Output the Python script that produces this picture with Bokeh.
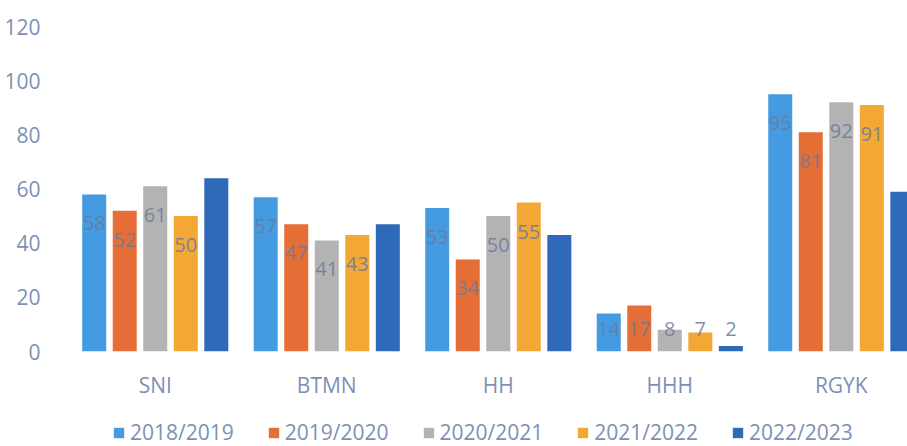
from bokeh.plotting import figure
from bokeh.layouts import column
from bokeh.models import (ColumnDataSource, Range1d, FixedTicker, Legend, LegendItem,
                          LabelSet)
from bokeh.core.properties import value
from bokeh.embed import file_html
from bokeh.resources import INLINE

categories = ["SNI", "BTMN", "HH", "HHH", "RGYK"]
series_names = ["2018/2019", "2019/2020", "2020/2021", "2021/2022", "2022/2023"]
v_2018_2019 = [58, 57, 53, 14, 95]
v_2019_2020 = [52, 47, 34, 17, 81]
v_2020_2021 = [61, 41, 50, 8, 92]
v_2021_2022 = [50, 43, 55, 7, 91]
v_2022_2023 = [64, 47, 43, 2, 59]
y_ticks = [0, 20, 40, 60, 80, 100, 120]

series_values = [v_2018_2019, v_2019_2020, v_2020_2021, v_2021_2022, v_2022_2023]
colors = ["#449BE2", "#E56E36", "#B3B3B3", "#F3A735", "#2E6AB7"]

FONT = "Open Sans"
TXT = "#7D90B6"

p = figure(width=907, height=406, output_backend="svg", toolbar_location=None,
           x_range=Range1d(-0.5, 4.386), y_range=Range1d(0, 120),
           min_border_left=69, min_border_right=0, min_border_top=26,
           min_border_bottom=55)
p.outline_line_color = None
p.xgrid.grid_line_color = None
p.ygrid.grid_line_color = None

# legend strip below the chart
lf = figure(width=907, height=40, output_backend="svg", toolbar_location=None,
            x_axis_type=None, y_axis_type=None, x_range=p.x_range,
            y_range=Range1d(0, 1), min_border_left=69, min_border_right=0,
            min_border_top=0, min_border_bottom=0)
lf.outline_line_color = None

offset = 0.178
bar_w = 0.14
xs = [float(i) for i in range(len(categories))]
lab_x, lab_y, lab_t = [], [], []
items = []
for i, (name, vals, col) in enumerate(zip(series_names, series_values, colors)):
    bx = [x + (i - 2) * offset for x in xs]
    src = ColumnDataSource(dict(x=bx, top=vals))
    p.vbar(x="x", top="top", width=bar_w, source=src, fill_color=col,
           line_color=None)
    # hidden copy in the legend strip, used only for the legend swatch
    lr = lf.vbar(x="x", top="top", width=bar_w, source=src, fill_color=col,
                 line_color=None, visible=False)
    items.append(LegendItem(label=name, renderers=[lr]))
    for xv, v in zip(bx, vals):
        if i < 4 or v < 19:
            lab_x.append(xv)
            lab_y.append(max(v, 19))
            lab_t.append(str(v))

lsrc = ColumnDataSource(dict(x=lab_x, y=lab_y, t=lab_t))
labels = LabelSet(x="x", y="y", text="t", source=lsrc, text_align="center",
                  text_baseline="middle", y_offset=-29, text_font=value(FONT),
                  text_font_size="20px", text_color="#6B7A9A", text_alpha=0.85)
p.add_layout(labels)

p.yaxis.ticker = FixedTicker(ticks=y_ticks)
p.yaxis.axis_line_color = None
p.yaxis.major_tick_line_color = None
p.yaxis.minor_tick_line_color = None
p.yaxis.major_label_standoff = 23
p.yaxis.major_label_text_font = FONT
p.yaxis.major_label_text_font_size = "21px"
p.yaxis.major_label_text_color = TXT

p.xaxis.ticker = FixedTicker(ticks=xs)
p.xaxis.major_label_overrides = {i: c for i, c in enumerate(categories)}
p.xaxis.axis_line_color = None
p.xaxis.major_tick_line_color = None
p.xaxis.minor_tick_line_color = None
p.xaxis.major_label_standoff = 13
p.xaxis.major_label_text_font = FONT
p.xaxis.major_label_text_font_size = "21px"
p.xaxis.major_label_text_color = TXT

legend = Legend(items=items, orientation="horizontal", location=(43, 0),
                label_text_font=FONT, label_text_font_size="21px",
                label_text_color=TXT, glyph_width=13, glyph_height=13,
                label_standoff=5, spacing=33, border_line_color=None,
                background_fill_alpha=0, margin=0, padding=0)
lf.add_layout(legend)

open("out.html", "w").write(file_html(column(p, lf, spacing=0), INLINE))
